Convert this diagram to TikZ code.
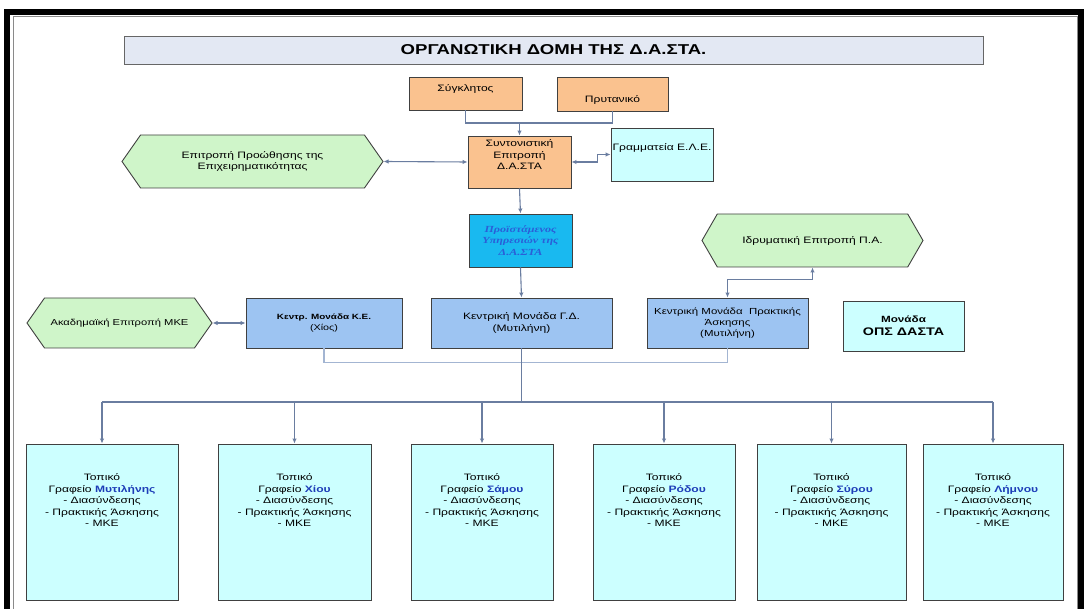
\documentclass[tikz,border=0pt]{standalone}
\usepackage{fontspec}
\setmainfont{Liberation Sans}[FakeStretch=1.3]
\newfontfamily\headfont{Liberation Serif}[FakeStretch=1.3]
\usetikzlibrary{shapes.symbols,arrows.meta}
\definecolor{framegray}{HTML}{8A8A8A}
\definecolor{titlefill}{HTML}{E3E8F3}
\definecolor{peach}{HTML}{FAC28F}
\definecolor{palecyan}{HTML}{CCFFFF}
\definecolor{brightcyan}{HTML}{19B9F0}
\definecolor{unitblue}{HTML}{9DC4F2}
\definecolor{palegreen}{HTML}{CFF5C9}
\definecolor{linkgray}{HTML}{6A7DA0}
\definecolor{buslight}{HTML}{A3B5D2}
\definecolor{islandblue}{HTML}{1D3DB8}
\definecolor{headblue}{HTML}{2A5FD8}

\begin{document}
\begin{tikzpicture}[x=1pt,y=-1pt,>={Latex[length=5pt,width=4.5pt]},
		every node/.style={font=\fontsize{9.3}{11.5}\selectfont,align=center,inner sep=1pt},
		box/.style={rectangle,draw=black!75,line width=0.9pt},
		hexbox/.style={signal,signal to=west and east,signal pointer angle=110,draw=black!75,line width=0.9pt,fill=palegreen},
		link/.style={draw=linkgray,line width=1.1pt},
		bus/.style={draw=buslight,line width=1.1pt}]
		\useasboundingbox (0,0) rectangle (1084,609);
		\draw [line width=6pt] (7,609) -- (7,12) -- (1081,12) -- (1081,609);
		\draw [color=framegray,line width=1pt] (13,609) -- (13,17) -- (1077,17) -- (1077,609);
		%
		\node [box,fill=titlefill,draw=black!60,minimum width=859,minimum height=28,font=\bfseries\fontsize{14.3}{16}\selectfont] (title) at (553.5,50) {ΟΡΓΑΝΩΤΙΚΗ ΔΟΜΗ ΤΗΣ Δ.Α.ΣΤΑ.};
		\node [box,fill=peach,minimum width=113,minimum height=33,text depth=11pt] (senate) at (465.5,93.5) {Σύγκλητος};
		\node [box,fill=peach,minimum width=111,minimum height=34,text height=19pt] (rector) at (612.5,94) {Πρυτανικό};
		\node [box,fill=peach,minimum width=103,minimum height=52,text depth=14.5pt] (coord) at (519.5,162) {Συντονιστική\\Επιτροπή\\Δ.Α.ΣΤΑ};
		\node [box,fill=palecyan,minimum width=102,minimum height=53,text depth=15.5pt] (secr) at (662,154.5) {Γραμματεία Ε.Λ.Ε.};
		\node [hexbox,minimum width=261,minimum height=53] (promo) at (252.5,161.5) {Επιτροπή Προώθησης της\\Επιχειρηματικότητας};
		\node [box,fill=brightcyan,minimum width=103,minimum height=53,text=headblue,font=\headfont\bfseries\itshape\fontsize{9.3}{11.5}\selectfont] (head) at (520.5,240.5) {Προϊστάμενος\\Υπηρεσιών της\\Δ.Α.ΣΤΑ};
		\node [hexbox,signal pointer angle=120,minimum width=221,minimum height=53] (instcomm) at (812.5,240.5) {Ιδρυματική Επιτροπή Π.Α.};
		%
		\node [hexbox,minimum width=185,minimum height=50,font=\fontsize{8.6}{11}\selectfont] (acad) at (119.5,323) {Ακαδημαϊκή Επιτροπή ΜΚΕ};
		\node [box,fill=unitblue,minimum width=156,minimum height=50,font=\bfseries\fontsize{7.6}{11}\selectfont] (ke) at (324,323) {Κεντρ. Μονάδα Κ.Ε.\\{\mdseries\fontsize{8.3}{11}\selectfont(Χίος)}};
		\node [box,fill=unitblue,minimum width=181,minimum height=50] (gd) at (521.5,323) {Κεντρική Μονάδα Γ.Δ.\\(Μυτιλήνη)};
		\node [box,fill=unitblue,minimum width=161,minimum height=50,font=\fontsize{8.8}{11}\selectfont] (prak) at (727.5,323) {Κεντρική Μονάδα~~Πρακτικής\\Άσκησης\\(Μυτιλήνη)};
		\node [box,fill=palecyan,minimum width=121,minimum height=50,font=\bfseries\fontsize{9}{13}\selectfont] (ops) at (903.5,326) {Μονάδα\\{\fontsize{11}{13}\selectfont ΟΠΣ ΔΑΣΤΑ}};
		%
		\foreach \n/\x/\w/\isl in {1/102/152/Μυτιλήνης,2/294.5/153/Χίου,3/482/142/Σάμου,4/664/142/Ρόδου,5/831.5/149/Σύρου,6/993/140/Λήμνου}
			\node [box,fill=palecyan,minimum width=\w,minimum height=156,text depth=44pt] (office\n) at (\x,522) {Τοπικό\\Γραφείο {\bfseries\color{islandblue}\isl}\\- Διασύνδεσης\\- Πρακτικής Άσκησης\\- ΜΚΕ};
		%
		\coordinate (topjoin) at (519.5,123);
		\draw [link] (senate.south) -- (senate.south |- topjoin) -| (rector.south);
		\draw [link,->] (topjoin) -- (coord.north);
		\draw [link,<->] (promo.east) -- (coord.west);
		\draw [link,<->] (coord.east) -- ++(26,0) |- (secr.west);
		\draw [link,->] (coord.south) -- (head.north);
		\draw [link,->] (head.south) -- (gd.north);
		\draw [link,<->] (acad.east) -- (ke.west);
		\draw [link,<->] (prak.north) -- ++(0,-18) -| (instcomm.south);
		%
		\coordinate (lowbus) at (521.5,402);
		\draw [bus] (ke.south) -- ++(0,14) -| (prak.south);
		\draw [link] (gd.south) -- (lowbus);
		\draw [link] (office1.north |- lowbus) -- (office6.north |- lowbus);
		\foreach \n in {1,...,6}
			\draw [link,->] (office\n.north |- lowbus) -- (office\n.north);
	\end{tikzpicture}
\end{document}
